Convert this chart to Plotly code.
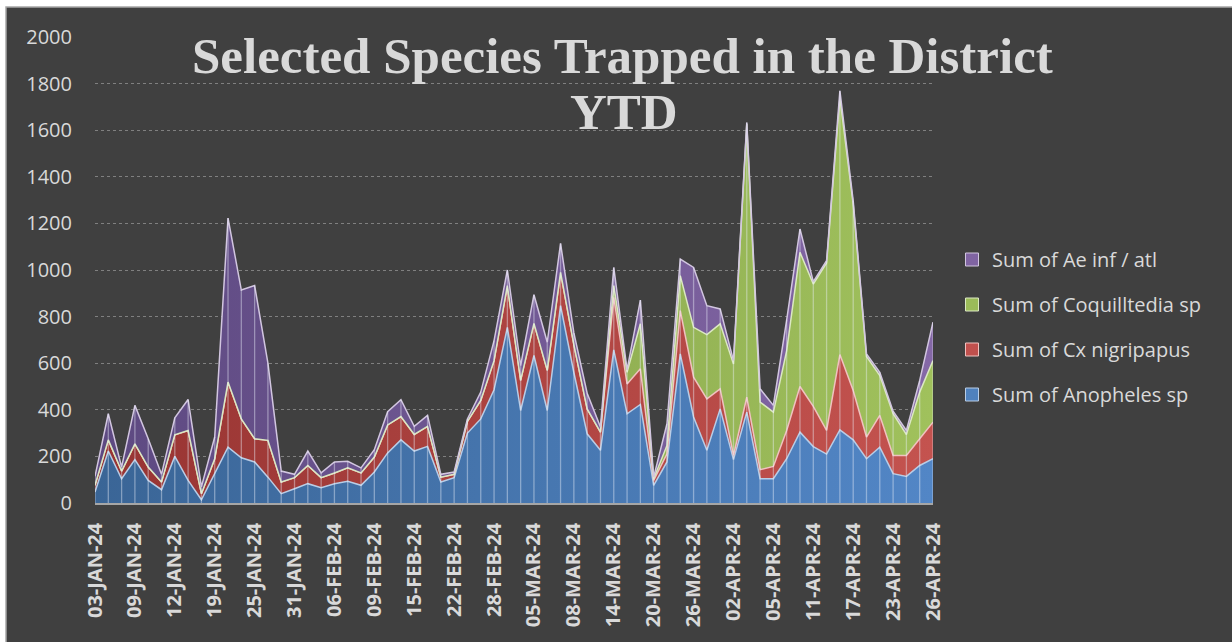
import plotly.graph_objects as go

dates = [
    "03-JAN-24", "04-JAN-24", "08-JAN-24", "09-JAN-24", "10-JAN-24", "11-JAN-24",
    "12-JAN-24", "16-JAN-24", "17-JAN-24", "19-JAN-24", "22-JAN-24", "24-JAN-24",
    "25-JAN-24", "26-JAN-24", "30-JAN-24", "31-JAN-24", "01-FEB-24", "02-FEB-24",
    "06-FEB-24", "07-FEB-24", "08-FEB-24", "09-FEB-24", "13-FEB-24", "14-FEB-24",
    "15-FEB-24", "16-FEB-24", "21-FEB-24", "22-FEB-24", "23-FEB-24", "27-FEB-24",
    "28-FEB-24", "01-MAR-24", "04-MAR-24", "05-MAR-24", "06-MAR-24", "07-MAR-24",
    "08-MAR-24", "11-MAR-24", "12-MAR-24", "14-MAR-24", "15-MAR-24", "18-MAR-24",
    "20-MAR-24", "21-MAR-24", "22-MAR-24", "26-MAR-24", "27-MAR-24", "28-MAR-24",
    "02-APR-24", "03-APR-24", "04-APR-24", "05-APR-24", "08-APR-24", "09-APR-24",
    "11-APR-24", "12-APR-24", "16-APR-24", "17-APR-24", "18-APR-24", "22-APR-24",
    "23-APR-24", "24-APR-24", "25-APR-24", "26-APR-24",
]

anopheles = [
    47, 223, 104, 186, 97, 57, 200, 97, 14, 126, 240, 194,
    176, 111, 40, 61, 83, 66, 83, 93, 76, 133, 215, 271,
    223, 243, 90, 109, 300, 361, 486, 754, 397, 633, 397, 847,
    560, 297, 226, 657, 383, 423, 76, 176, 640, 369, 226, 404,
    186, 390, 104, 104, 190, 304, 242, 210, 314, 271, 190, 240,
    126, 114, 161, 190,
]
cx_nigripapus = [
    29, 48, 33, 68, 57, 33, 93, 214, 26, 64, 279, 167,
    100, 158, 50, 48, 78, 43, 46, 58, 53, 64, 120, 100,
    71, 86, 21, 14, 51, 79, 125, 179, 129, 138, 172, 143,
    120, 107, 78, 226, 128, 153, 21, 35, 186, 171, 221, 86,
    18, 64, 39, 53, 121, 196, 173, 102, 323, 212, 93, 136,
    78, 90, 115, 157,
]
coquilltedia = [
    0, 0, 0, 0, 0, 0, 0, 0, 0, 0, 0, 0,
    0, 0, 0, 0, 0, 0, 0, 0, 0, 0, 0, 0,
    0, 0, 0, 0, 0, 0, 0, 0, 0, 0, 0, 0,
    0, 0, 0, 50, 50, 193, 7, 36, 150, 214, 276, 279,
    393, 1172, 290, 233, 343, 576, 525, 718, 1103, 800, 346, 171,
    179, 90, 200, 264,
]
ae_inf_atl = [
    38, 112, 17, 165, 122, 33, 73, 133, 29, 93, 704, 553,
    657, 331, 47, 14, 62, 20, 47, 28, 22, 32, 57, 72,
    35, 47, 12, 10, 10, 36, 86, 67, 64, 123, 121, 124,
    50, 67, 22, 78, 10, 102, 7, 93, 71, 257, 124, 64,
    14, 7, 57, 29, 132, 100, 10, 10, 29, 14, 11, 14,
    11, 17, 50, 165,
]

tick_labels = dates[::3]
y_ticks = list(range(0, 2001, 200))

series = [
    ("Sum of Anopheles sp", anopheles, "#3a6596", "#5286c6", "#b9cde6", "#4f81bd"),
    ("Sum of Cx nigripapus", cx_nigripapus, "#973432", "#c4534f", "#f0c2c0", "#c0504d"),
    ("Sum of Coquilltedia sp", coquilltedia, "#7b9646", "#a0c15c", "#dbe8c2", "#9bbb59"),
    ("Sum of Ae inf / atl", ae_inf_atl, "#5d4981", "#8568a7", "#d2c6e0", "#8064a2"),
]

fig = go.Figure()
for name, vals, c0, c1, edge, solid in series:
    fig.add_trace(go.Scatter(
        x=dates, y=vals, name=name, mode="lines", stackgroup="one",
        line=dict(color=edge, width=1.5),
        fillcolor=solid,
        fillgradient=dict(type="horizontal", colorscale=[[0, c0], [1, c1]]),
        showlegend=False,
    ))

# vertical drop lines at each category, from the axis to the stack total
totals = [a + b + c + d for a, b, c, d in zip(anopheles, cx_nigripapus, coquilltedia, ae_inf_atl)]
vx, vy = [], []
for d, t in zip(dates, totals):
    vx += [d, d, None]
    vy += [0, t, None]
fig.add_trace(go.Scatter(
    x=vx, y=vy, mode="lines", line=dict(color="rgba(235,240,250,0.42)", width=1.3),
    showlegend=False, hoverinfo="skip",
))

# legend entries (square swatches), top-to-bottom order as in the reference
for name, vals, c0, c1, edge, solid in reversed(series):
    fig.add_trace(go.Scatter(
        x=[None], y=[None], mode="markers", name=name,
        marker=dict(symbol="square", size=13, color=solid, line=dict(color=edge, width=1)),
        legendgroup=name,
    ))

L, T, R, B = 95, 37, 299, 139
W, H = 1232, 642
pw, ph = W - L - R, H - T - B

def px_x(p):
    return (p - L) / pw

def px_y(p):
    return (H - B - p) / ph

fig.add_shape(
    type="rect", xref="paper", yref="paper",
    x0=px_x(6), x1=px_x(1260), y0=px_y(680), y1=px_y(7),
    fillcolor="#404040", line=dict(color="#a6a6a6", width=1.5), layer="below",
)

fig.add_annotation(
    text="Selected Species Trapped in the District", xref="paper", yref="paper",
    x=px_x(622), y=px_y(56), xanchor="center", yanchor="middle", showarrow=False,
    font=dict(family="Liberation Serif", size=51, color="#d9d9d9", weight="bold"),
)
fig.add_annotation(
    text="YTD", xref="paper", yref="paper",
    x=px_x(624), y=px_y(112), xanchor="center", yanchor="middle", showarrow=False,
    font=dict(family="Liberation Serif", size=51, color="#d9d9d9", weight="bold"),
)

fig.update_layout(
    width=W, height=H,
    margin=dict(l=L, r=R, t=T, b=B),
    paper_bgcolor="white",
    plot_bgcolor="rgba(0,0,0,0)",
    font=dict(family="Open Sans", color="#d9d9d9"),
    legend=dict(
        x=px_x(952), y=px_y(240), xanchor="left", yanchor="top",
        font=dict(family="Open Sans", size=20, color="#d9d9d9"),
        tracegroupgap=16, traceorder="grouped",
        bgcolor="rgba(0,0,0,0)",
    ),
    xaxis=dict(
        type="category", categoryorder="array", categoryarray=dates,
        range=[0, len(dates) - 1],
        tickmode="array", tickvals=tick_labels, ticktext=tick_labels,
        tickangle=-90, ticks="", ticklabelstandoff=10,
        tickfont=dict(family="Open Sans", size=20, color="#d9d9d9", weight="bold"),
        showgrid=False, showline=True, linecolor="#a6a6a6", linewidth=1.5,
        zeroline=False,
    ),
    yaxis=dict(
        range=[0, 2000], tickmode="array", tickvals=y_ticks,
        tickfont=dict(family="Open Sans", size=20, color="#d9d9d9"),
        ticks="", ticklabelstandoff=22,
        showgrid=True, gridcolor="#808080", griddash="dot", gridwidth=1,
        zeroline=False, showline=False,
    ),
)

fig.write_html(
    "out.html",
    config={"displayModeBar": False},
    post_script="document.body.style.margin='0';document.body.style.overflow='hidden';",
)
